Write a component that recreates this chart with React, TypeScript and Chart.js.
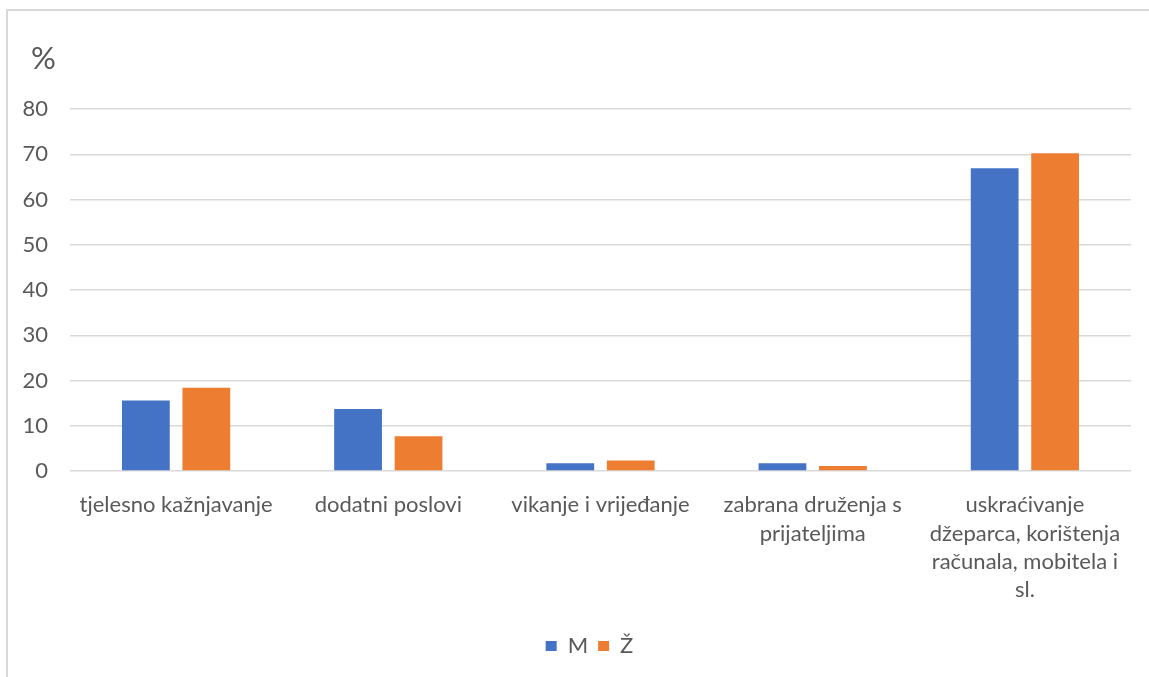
import { useEffect, useRef } from 'react';
import { Chart, registerables } from 'chart.js';

Chart.register(...registerables);

const categories: (string | string[])[] = [
  'tjelesno kažnjavanje',
  'dodatni poslovi',
  'vikanje i vrijeđanje',
  ['zabrana druženja s', 'prijateljima'],
  ['uskraćivanje', 'džeparca, korištenja', 'računala, mobitela i', 'sl.'],
];
const seriesNames = ['M', 'Ž'];
const valuesM = [15.6, 13.7, 1.7, 1.7, 66.9];
const valuesZ = [18.4, 7.7, 2.3, 1.1, 70.2];
const yMin = 0;
const yMax = 80;
const yStep = 10;
const yUnit = '%';

const FONT = 'Lato, "Open Sans", sans-serif';
const TEXT = '#595959';
const GRID = '#d9d9d9';

const unitPlugin = {
  id: 'unitLabel',
  afterLayout(chart: any) {
    const lg = chart.legend;
    if (lg) {
      lg.left += 20;
      lg.right += 20;
    }
  },
  afterDraw(chart: any) {
    const { ctx, chartArea } = chart;
    ctx.save();
    ctx.font = `31px ${FONT}`;
    ctx.fillStyle = TEXT;
    ctx.textAlign = 'left';
    ctx.textBaseline = 'middle';
    ctx.fillText(yUnit, chartArea.left - 39, chartArea.top - 50);
    ctx.restore();
  },
};

export default function App() {
  const ref = useRef<HTMLCanvasElement | null>(null);

  useEffect(() => {
    if (!ref.current) return;
    const chart = new Chart(ref.current, {
      type: 'bar',
      data: {
        labels: categories,
        datasets: [
          {
            label: seriesNames[0],
            data: valuesM,
            backgroundColor: '#4472C4',
            categoryPercentage: 0.57,
            barPercentage: 0.79,
          },
          {
            label: seriesNames[1],
            data: valuesZ,
            backgroundColor: '#ED7D31',
            categoryPercentage: 0.57,
            barPercentage: 0.79,
          },
        ],
      },
      options: {
        animation: false,
        responsive: true,
        maintainAspectRatio: false,
        layout: { padding: { left: 0, right: 18, top: 98, bottom: 10 } },
        plugins: {
          title: { display: false },
          tooltip: { enabled: false },
          legend: {
            display: true,
            position: 'bottom',
            labels: {
              boxWidth: 11,
              boxHeight: 10,
              padding: 10,
              color: TEXT,
              font: { family: FONT, size: 22 },
            },
          },
        },
        scales: {
          x: {
            grid: { display: false, drawTicks: false },
            border: { display: false },
            ticks: {
              color: TEXT,
              font: { family: FONT, size: 22, lineHeight: 1.29 },
              padding: 20,
              maxRotation: 0,
              autoSkip: false,
            },
            afterFit: (scale: any) => {
              scale.height = 154;
            },
          },
          y: {
            min: yMin,
            max: yMax,
            grid: { color: GRID, lineWidth: 1.5, drawTicks: false },
            border: { display: false },
            ticks: {
              stepSize: yStep,
              color: TEXT,
              font: { family: FONT, size: 22 },
              padding: 22,
            },
            afterFit: (scale: any) => {
              scale.width = 62;
            },
          },
        },
      },
      plugins: [unitPlugin],
    });
    return () => chart.destroy();
  }, []);

  return (
    <div
      style={{
        position: 'absolute',
        left: 6,
        top: 9,
        width: 1143,
        height: 668,
        boxSizing: 'border-box',
        borderLeft: `2px solid ${GRID}`,
        borderTop: `2px solid ${GRID}`,
        background: '#fff',
      }}
    >
      <div style={{ position: 'relative', width: 1141, height: 666 }}>
        <canvas ref={ref} />
      </div>
    </div>
  );
}
